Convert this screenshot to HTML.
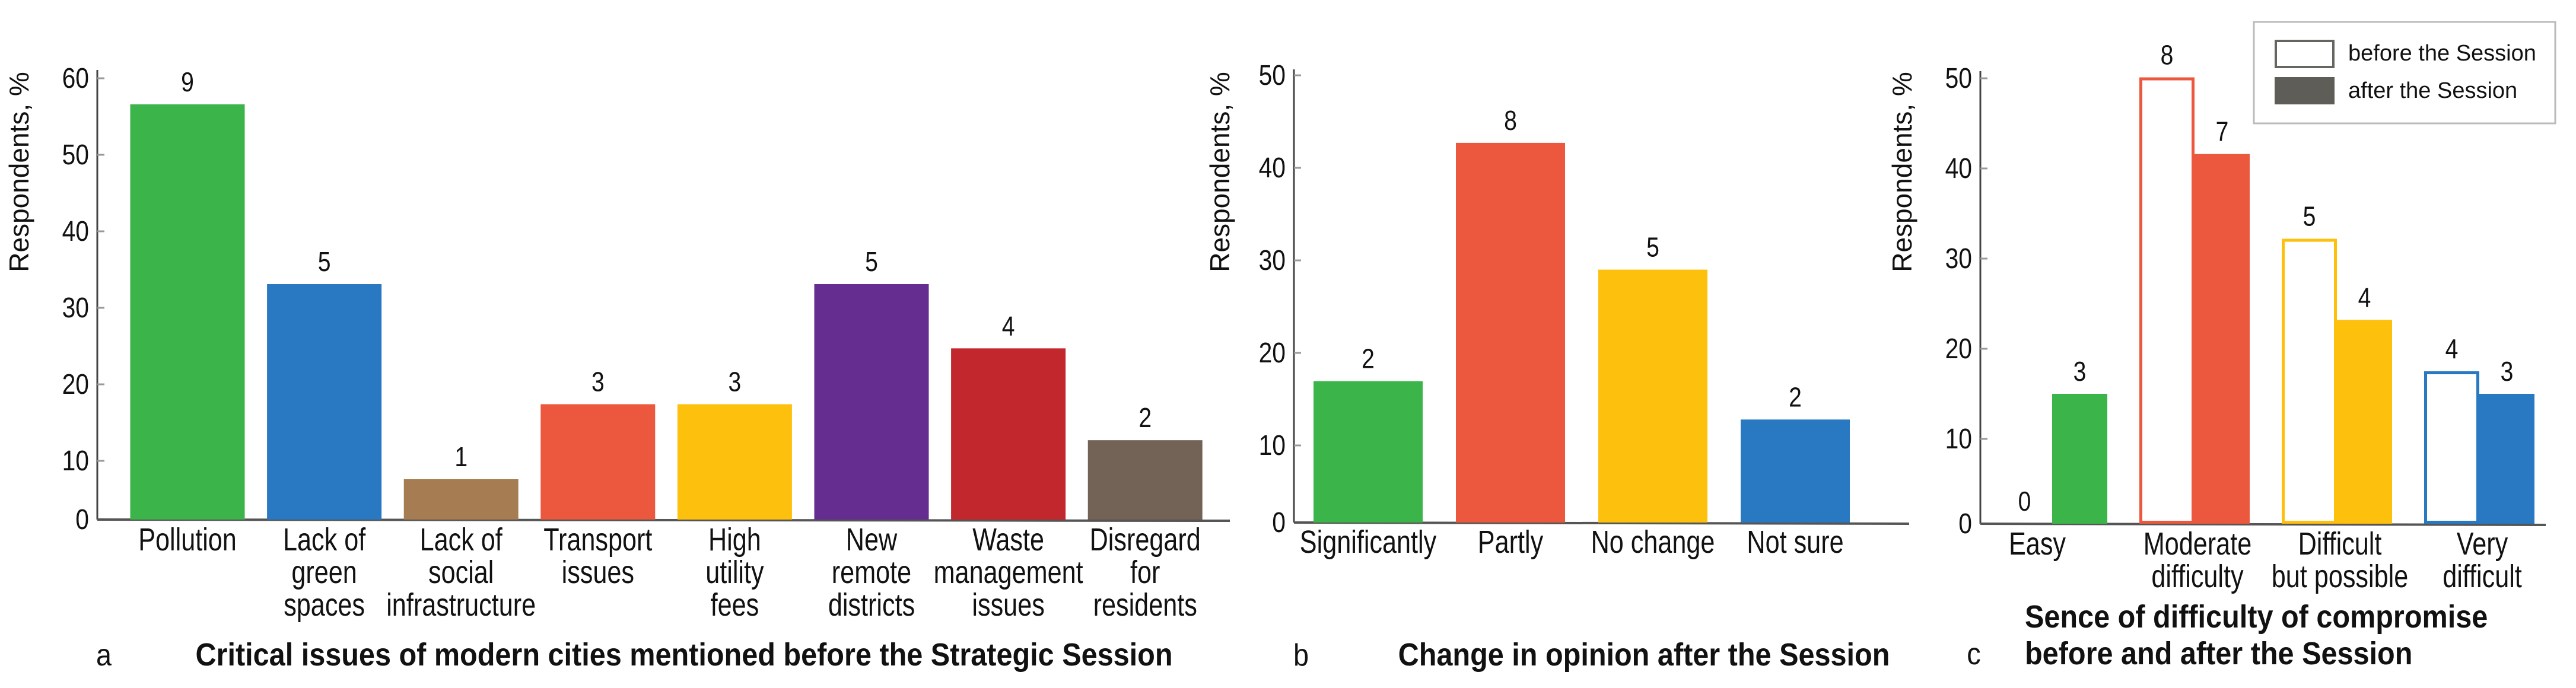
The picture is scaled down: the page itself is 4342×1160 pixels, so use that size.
<!DOCTYPE html>
<html><head><meta charset="utf-8">
<style>
html,body{margin:0;padding:0;background:#fff;}
svg{display:block;}
text{font-family:"Liberation Sans",sans-serif;fill:#111;}
</style></head>
<body>
<svg id="fig" width="4342" height="1160" viewBox="0 0 4342 1160" xmlns="http://www.w3.org/2000/svg"></svg>
<script>
// ---- Chart A data ----
const catsA = [["Pollution"],["Lack of","green","spaces"],["Lack of","social","infrastructure"],["Transport","issues"],["High","utility","fees"],["New","remote","districts"],["Waste","management","issues"],["Disregard","for","residents"]];
const valsA = [56.6, 33.1, 7.6, 17.4, 17.4, 33.1, 24.7, 12.7];
const countsA = [9, 5, 1, 3, 3, 5, 4, 2];
const colorsA = ["#3bb54a","#2979c2","#a67c52","#eb583d","#fdc00c","#662d91","#c1272d","#736357"];
const ticksA = [0,10,20,30,40,50,60];
// ---- Chart B data ----
const catsB = [["Significantly"],["Partly"],["No change"],["Not sure"]];
const valsB = [16.95, 42.7, 29.0, 12.8];
const countsB = [2, 8, 5, 2];
const colorsB = ["#3bb54a","#eb583d","#fdc00c","#2979c2"];
const ticksB = [0,10,20,30,40,50];
// ---- Chart C data ----
const catsC = [["Easy"],["Moderate","difficulty"],["Difficult","but possible"],["Very","difficult"]];
const beforeC = [0, 50.1, 32.2, 17.5];
const afterC = [15.0, 41.6, 23.2, 15.0];
const beforeCountsC = [0, 8, 5, 4];
const afterCountsC = [3, 7, 4, 3];
const colorsC = ["#3bb54a","#eb583d","#fdc00c","#2979c2"];
const ticksC = [0,10,20,30,40,50];

const NS = "http://www.w3.org/2000/svg";
const svg = document.getElementById("fig");
function el(tag, attrs, parent){
  const e = document.createElementNS(NS, tag);
  for (const k in attrs) e.setAttribute(k, attrs[k]);
  (parent||svg).appendChild(e);
  return e;
}
function txt(x, y, s, size, anchor, weight, sx, name){
  const g = el("g", {transform:`translate(${x},${y}) scale(${sx},1)`});
  const t = el("text", {x:0, y:0, "font-size":size, "text-anchor":anchor, "font-weight":weight}, g);
  t.textContent = s;
  
  
  return t;
}
function rotTitle(cx, cy, name){
  const t = el("text", {x:0, y:0, "font-size":46, "text-anchor":"middle", transform:`translate(${cx},${cy}) rotate(-90)`});
  t.textContent = "Respondents, %";
  
  
}
function axes(ax, top, base, right, ticks, yScale, prefix){
  const a = el("line", {x1:ax, y1:top, x2:ax, y2:base, stroke:"#444", "stroke-width":3});
  
  
  const b = el("line", {x1:ax, y1:base, x2:right, y2:base+2, stroke:"#555", "stroke-width":4});
  
  
  ticks.forEach(v=>{
    const y = v===0 ? base : yScale(v);
    if (v!==0){
      const tk = el("line", {x1:ax, y1:y, x2:ax+12, y2:y, stroke:"#999", "stroke-width":3});
      
      
    }
    txt(ax-14, y+16, String(v), 48, "end", "normal", 0.85, prefix+'-y-tick-label');
  });
}
function catLabel(cx, lines, y0, lh, name){
  lines.forEach((s,i)=>txt(cx, y0+i*lh, s, 54, "middle", "normal", 0.8, name));
}

// ===== Chart A =====
(function(){
  const ax=164, base=876, top=118, right=2073;
  const yS = v => 132 + (60 - v) * 12.9;
  axes(ax, top, base, right, ticksA, yS, "chart-a");
  const step=230.6, w=193, c0=316;
  valsA.forEach((v,i)=>{
    const cx = c0 + i*step, y = yS(v);
    const r = el("rect", {x:cx-w/2, y:y, width:w, height:base-y, fill:colorsA[i]});
    
    
    txt(cx, y-22, String(countsA[i]), 46, "middle", "normal", 0.85, 'bar-a-count');
    catLabel(cx, catsA[i], 928, 55, 'chart-a-category-label');
  });
  rotTitle(48, 290, 'chart-a-y-axis-title');
  txt(175, 1122, "a", 52, "middle", "normal", 0.9, 'panel-a-letter');
  txt(1153, 1122, "Critical issues of modern cities mentioned before the Strategic Session", 54, "middle", "bold", 0.9, 'chart-a-title');
})();

// ===== Chart B =====
(function(){
  const ax=2181, base=881, top=117, right=3218;
  const yS = v => 127 + (50 - v) * 15.6;
  axes(ax, top, base, right, ticksB, yS, "chart-b");
  const step=240, w=184, c0=2306;
  valsB.forEach((v,i)=>{
    const cx = c0 + i*step, y = yS(v);
    const r = el("rect", {x:cx-w/2, y:y, width:w, height:base-y, fill:colorsB[i]});
    
    
    txt(cx, y-22, String(countsB[i]), 46, "middle", "normal", 0.85, 'bar-b-count');
    catLabel(cx, catsB[i], 932, 55, 'chart-b-category-label');
  });
  txt(2193, 1122, "b", 52, "middle", "normal", 0.9, 'panel-b-letter');
  txt(2771, 1122, "Change in opinion after the Session", 54, "middle", "bold", 0.9, 'chart-b-title');
  rotTitle(2072, 290, 'chart-b-y-axis-title');
})();

// ===== Chart C =====
(function(){
  const ax=3338, base=883, top=120, right=4291;
  const yS = v => 132 + (50 - v) * 15.2;
  axes(ax, top, base, right, ticksC, yS, "chart-c");
  const step=240, w=93, g0=3459;
  catsC.forEach((c,i)=>{
    const mid = g0 + i*step;
    const yb = yS(beforeC[i]);
    if (beforeC[i] > 0){
      const r = el("rect", {x:mid-w+2.5, y:yb+2.5, width:w-5, height:base-yb-5, fill:"#fff", stroke:colorsC[i], "stroke-width":5});
      
      
    }
    txt(mid-w/2, Math.min(yb, base)-22, String(beforeCountsC[i]), 46, "middle", "normal", 0.85, 'bar-c-before-count');
    const ya = yS(afterC[i]);
    const r2 = el("rect", {x:mid, y:ya, width:w, height:base-ya, fill:colorsC[i]});
    
    
    txt(mid+w/2, ya-22, String(afterCountsC[i]), 46, "middle", "normal", 0.85, 'bar-c-after-count');
    catLabel(i===0 ? mid-25 : mid+5, c, 935, 55, 'chart-c-category-label');
  });
  rotTitle(3222, 290, 'chart-c-y-axis-title');
  txt(3327, 1120, "c", 52, "middle", "normal", 0.9, 'panel-c-letter');
  txt(3413, 1058, "Sence of difficulty of compromise", 54, "start", "bold", 0.9, 'chart-c-title-line1');
  txt(3413, 1120, "before and after the Session", 54, "start", "bold", 0.9, 'chart-c-title-line2');
  // legend
  const lg = el("g", {});
  
  
  el("rect", {x:3799, y:37, width:508, height:171, fill:"#fff", stroke:"#bbb", "stroke-width":3}, lg);
  const s1 = el("rect", {x:3836, y:69, width:97, height:44, fill:"#fff", stroke:"#666660", "stroke-width":4}, lg);
  
  
  const s2 = el("rect", {x:3834, y:130, width:101, height:46, fill:"#5e5d58"}, lg);
  
  
  const t1 = el("text", {x:3958, y:102, "font-size":38}, lg);
  t1.textContent = "before the Session";
  
  
  const t2 = el("text", {x:3958, y:165, "font-size":38}, lg);
  t2.textContent = "after the Session";
  
  
})();
</script>
</body></html>
